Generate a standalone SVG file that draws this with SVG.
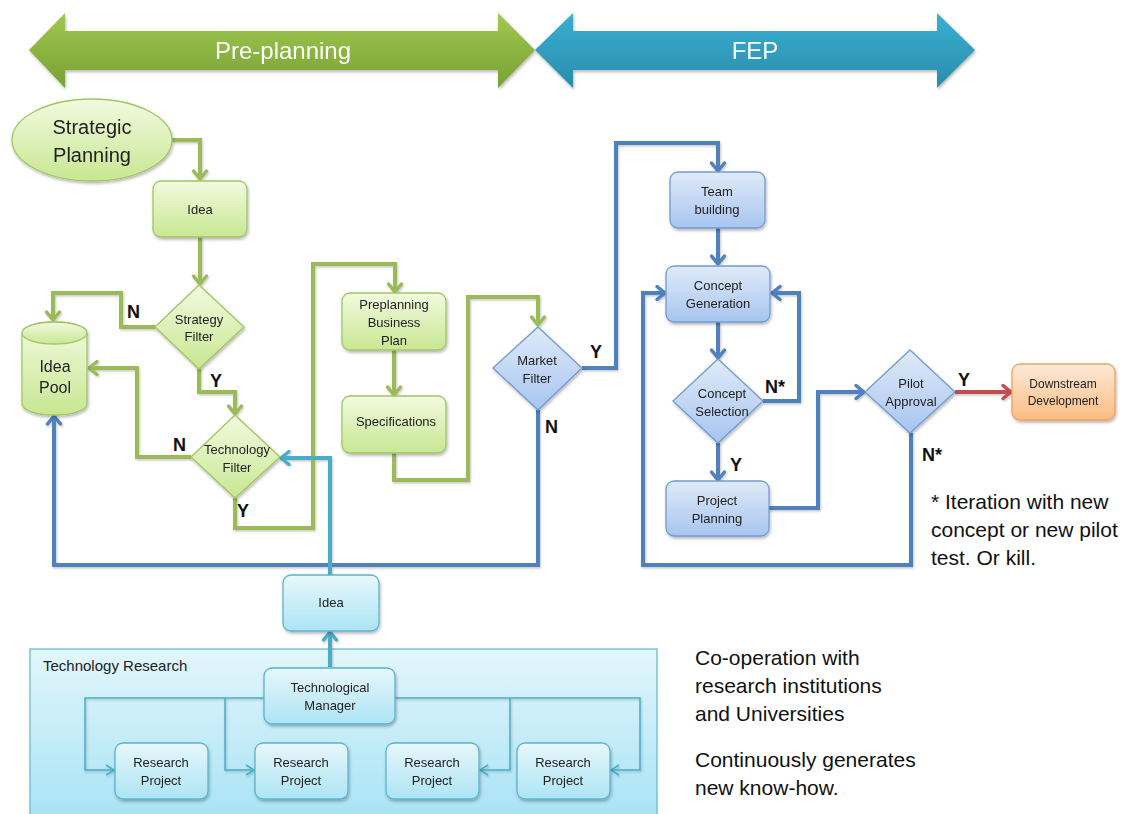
<svg xmlns="http://www.w3.org/2000/svg" width="1144" height="814" viewBox="0 0 1144 814">
  <style>
    .t { font-family: "Liberation Sans", Arial, sans-serif; fill: #222; text-anchor: middle; }
    .n13 { font-size: 13px; }
    .big { font-family: "Liberation Sans", Arial, sans-serif; font-size: 21px; fill: #111; }
    .lab { font-family: "Liberation Sans", Arial, sans-serif; font-size: 18px; font-weight: bold; fill: #111; }
    .hdr { font-family: "Liberation Sans", Arial, sans-serif; font-size: 24px; fill: #fff; text-anchor: middle; }
    .gNode { fill: url(#gradG); stroke: #A2C564; stroke-width: 1.3; }
    .bNode { fill: url(#gradB); stroke: #729BD2; stroke-width: 1.3; }
    .cNode { fill: url(#gradC); stroke: #5AB4CE; stroke-width: 1.3; }
    .oNode { fill: url(#gradO); stroke: #F0A35F; stroke-width: 1.3; }
    .cg { fill: none; stroke: #9BBB59; stroke-width: 4; stroke-linejoin: miter; }
    .cb { fill: none; stroke: #4F81BD; stroke-width: 4; stroke-linejoin: miter; }
    .cc { fill: none; stroke: #4BACC6; stroke-width: 4; stroke-linejoin: miter; }
    .cr { fill: none; stroke: #C0504D; stroke-width: 4; }
    .thin { fill: none; stroke: #4BACC6; stroke-width: 1.5; }
  </style>
  <defs>
    <linearGradient id="gradG" x1="0" y1="0" x2="0" y2="1">
      <stop offset="0" stop-color="#F2FADF"/>
      <stop offset="1" stop-color="#C8E792"/>
    </linearGradient>
    <linearGradient id="gradB" x1="0" y1="0" x2="0" y2="1">
      <stop offset="0" stop-color="#E0EAF9"/>
      <stop offset="1" stop-color="#A7C5F0"/>
    </linearGradient>
    <linearGradient id="gradC" x1="0" y1="0" x2="0" y2="1">
      <stop offset="0" stop-color="#E7F7FC"/>
      <stop offset="1" stop-color="#ADE4F4"/>
    </linearGradient>
    <linearGradient id="gradO" x1="0" y1="0" x2="0" y2="1">
      <stop offset="0" stop-color="#FDEAD8"/>
      <stop offset="1" stop-color="#FBBC82"/>
    </linearGradient>
    <linearGradient id="gradPanel" x1="0" y1="0" x2="0" y2="1">
      <stop offset="0" stop-color="#E3F6FC"/>
      <stop offset="1" stop-color="#A6E2F5"/>
    </linearGradient>
    <linearGradient id="gradHdrG" x1="0" y1="0" x2="0" y2="1">
      <stop offset="0" stop-color="#A3C851"/>
      <stop offset="1" stop-color="#76A133"/>
    </linearGradient>
    <linearGradient id="gradHdrB" x1="0" y1="0" x2="0" y2="1">
      <stop offset="0" stop-color="#38B0D2"/>
      <stop offset="1" stop-color="#2A8CAC"/>
    </linearGradient>
    <filter id="sh" x="-20%" y="-20%" width="140%" height="150%">
      <feDropShadow dx="1" dy="2" stdDeviation="1.5" flood-color="#000" flood-opacity="0.28"/>
    </filter>
    <filter id="shL" x="-5%" y="-5%" width="110%" height="115%">
      <feDropShadow dx="1" dy="1.5" stdDeviation="1" flood-color="#000" flood-opacity="0.22"/>
    </filter>
    <marker id="aG" viewBox="0 0 14 18" refX="11" refY="9" markerWidth="14" markerHeight="18" markerUnits="userSpaceOnUse" orient="auto">
      <path d="M3,2.5 L11,9 L3,15.5" fill="none" stroke="#9BBB59" stroke-width="3.5" stroke-linecap="round" stroke-linejoin="round"/>
    </marker>
    <marker id="aB" viewBox="0 0 14 18" refX="11" refY="9" markerWidth="14" markerHeight="18" markerUnits="userSpaceOnUse" orient="auto">
      <path d="M3,2.5 L11,9 L3,15.5" fill="none" stroke="#4F81BD" stroke-width="3.5" stroke-linecap="round" stroke-linejoin="round"/>
    </marker>
    <marker id="aC" viewBox="0 0 14 18" refX="11" refY="9" markerWidth="14" markerHeight="18" markerUnits="userSpaceOnUse" orient="auto">
      <path d="M3,2.5 L11,9 L3,15.5" fill="none" stroke="#4BACC6" stroke-width="3.5" stroke-linecap="round" stroke-linejoin="round"/>
    </marker>
    <marker id="aR" viewBox="0 0 14 18" refX="11" refY="9" markerWidth="14" markerHeight="18" markerUnits="userSpaceOnUse" orient="auto">
      <path d="M3,2.5 L11,9 L3,15.5" fill="none" stroke="#C0504D" stroke-width="3.5" stroke-linecap="round" stroke-linejoin="round"/>
    </marker>
    <marker id="aT" viewBox="0 0 10 12" refX="9" refY="6" markerWidth="10" markerHeight="12" markerUnits="userSpaceOnUse" orient="auto">
      <path d="M1,1 L9,6 L1,11" fill="none" stroke="#4BACC6" stroke-width="1.5"/>
    </marker>
  </defs>

  <rect x="0" y="0" width="1144" height="814" fill="#fff"/>

  <!-- phase banners -->
  <g id="phase-preplanning" filter="url(#sh)">
    <polygon points="29,50 65,13 65,31 498,31 498,13 535,50 498,88 498,70 65,70 65,88" fill="url(#gradHdrG)"/>
    <text class="hdr" x="283" y="59">Pre-planning</text>
  </g>
  <g id="phase-fep" filter="url(#sh)">
    <polygon points="535,50 573,13 573,31 937,31 937,13 975,50 937,88 937,70 573,70 573,88" fill="url(#gradHdrB)"/>
    <text class="hdr" x="755" y="59">FEP</text>
  </g>

  <!-- technology research panel -->
  <g id="technology-research">
    <rect x="30" y="649" width="627" height="175" fill="url(#gradPanel)" stroke="#68BCD4" stroke-width="1.3"/>
    <text class="t" x="43" y="671" style="font-size:15px;text-anchor:start">Technology Research</text>
  </g>

  <!-- connectors -->
  <g id="connectors" filter="url(#shL)">
    <!-- pre-planning (green) -->
    <path class="cg" d="M172,140 H200 V179" marker-end="url(#aG)"/>
    <path class="cg" d="M200,237 V284" marker-end="url(#aG)"/>
    <path class="cg" d="M155,327 H121 V293 H53 V320" marker-end="url(#aG)"/>
    <path class="cg" d="M199,369 V392 H235 V414" marker-end="url(#aG)"/>
    <path class="cg" d="M191,457 H137 V368 H89" marker-end="url(#aG)"/>
    <path class="cg" d="M235,498 V528 H313 V264 H395 V292" marker-end="url(#aG)"/>
    <path class="cg" d="M394,350 V395" marker-end="url(#aG)"/>
    <path class="cg" d="M394,453 V480 H468 V297 H538 V325" marker-end="url(#aG)"/>
    <!-- FEP (blue) -->
    <path class="cb" d="M538,410 V565 H54 V416" marker-end="url(#aB)"/>
    <path class="cb" d="M582,368 H616 V143 H718 V171" marker-end="url(#aB)"/>
    <path class="cb" d="M718,228 V264" marker-end="url(#aB)"/>
    <path class="cb" d="M718,322 V358" marker-end="url(#aB)"/>
    <path class="cb" d="M763,401 H799 V293 H772" marker-end="url(#aB)"/>
    <path class="cb" d="M718,443 V480" marker-end="url(#aB)"/>
    <path class="cb" d="M769,508 H818 V392 H864" marker-end="url(#aB)"/>
    <path class="cb" d="M911,433 V565 H643 V293 H665" marker-end="url(#aB)"/>
    <path class="cr" d="M955,392 H1011" marker-end="url(#aR)"/>
    <!-- technology research (teal) -->
    <path class="cc" d="M330,575 V458 H281" marker-end="url(#aC)"/>
    <path class="cc" d="M330,667 V632" marker-end="url(#aC)"/>
    <path class="thin" d="M264,698 H85 V770 H114" marker-end="url(#aT)"/>
    <path class="thin" d="M225,698 V770 H254" marker-end="url(#aT)"/>
    <path class="thin" d="M395,698 H640 V770 H611" marker-end="url(#aT)"/>
    <path class="thin" d="M510,698 V770 H480" marker-end="url(#aT)"/>
  </g>

  <!-- pre-planning nodes -->
  <g id="strategic-planning" filter="url(#sh)">
    <ellipse cx="92" cy="140" rx="80" ry="41" class="gNode"/>
    <text class="t" x="92" y="134" style="font-size:20px">Strategic</text>
    <text class="t" x="92" y="162" style="font-size:20px">Planning</text>
  </g>
  <g id="idea-1" filter="url(#sh)">
    <rect x="153" y="181" width="94" height="56" rx="8" class="gNode"/>
    <text class="t n13" x="200" y="214">Idea</text>
  </g>
  <g id="strategy-filter" filter="url(#sh)">
    <polygon points="199,285 244,327 199,369 155,327" class="gNode"/>
    <text class="t n13" x="199" y="324">Strategy</text>
    <text class="t n13" x="199" y="341">Filter</text>
  </g>
  <g id="idea-pool" filter="url(#sh)">
    <path d="M22,333 V404 A32.5,11 0 0 0 87,404 V333 A32.5,11 0 0 0 22,333 Z" class="gNode"/>
    <ellipse cx="54.5" cy="333" rx="32.5" ry="11" class="gNode"/>
    <text class="t" x="55" y="372" style="font-size:16px">Idea</text>
    <text class="t" x="55" y="393" style="font-size:16px">Pool</text>
  </g>
  <g id="technology-filter" filter="url(#sh)">
    <polygon points="235,415 280,457 235,498 191,457" class="gNode"/>
    <text class="t n13" x="237" y="454">Technology</text>
    <text class="t n13" x="237" y="472">Filter</text>
  </g>
  <g id="preplanning-business-plan" filter="url(#sh)">
    <rect x="342" y="293" width="104" height="57" rx="8" class="gNode"/>
    <text class="t n13" x="394" y="309">Preplanning</text>
    <text class="t n13" x="394" y="327">Business</text>
    <text class="t n13" x="394" y="345">Plan</text>
  </g>
  <g id="specifications" filter="url(#sh)">
    <rect x="342" y="396" width="104" height="57" rx="8" class="gNode"/>
    <text class="t n13" x="396" y="426">Specifications</text>
  </g>

  <!-- FEP nodes -->
  <g id="market-filter" filter="url(#sh)">
    <polygon points="538,327 582,368 538,410 493,368" class="bNode"/>
    <text class="t n13" x="537" y="365">Market</text>
    <text class="t n13" x="537" y="383">Filter</text>
  </g>
  <g id="team-building" filter="url(#sh)">
    <rect x="670" y="172" width="95" height="56" rx="8" class="bNode"/>
    <text class="t n13" x="717" y="196">Team</text>
    <text class="t n13" x="717" y="214">building</text>
  </g>
  <g id="concept-generation" filter="url(#sh)">
    <rect x="666" y="266" width="104" height="56" rx="8" class="bNode"/>
    <text class="t n13" x="718" y="290">Concept</text>
    <text class="t n13" x="718" y="308">Generation</text>
  </g>
  <g id="concept-selection" filter="url(#sh)">
    <polygon points="718,359 763,401 718,443 673,401" class="bNode"/>
    <text class="t n13" x="722" y="398">Concept</text>
    <text class="t n13" x="722" y="416">Selection</text>
  </g>
  <g id="project-planning" filter="url(#sh)">
    <rect x="666" y="481" width="103" height="55" rx="8" class="bNode"/>
    <text class="t n13" x="717" y="505">Project</text>
    <text class="t n13" x="717" y="523">Planning</text>
  </g>
  <g id="pilot-approval" filter="url(#sh)">
    <polygon points="910,350 955,392 910,433 865,392" class="bNode"/>
    <text class="t n13" x="911" y="388">Pilot</text>
    <text class="t n13" x="911" y="406">Approval</text>
  </g>
  <g id="downstream-development" filter="url(#sh)">
    <rect x="1012" y="364" width="103" height="56" rx="8" class="oNode"/>
    <text class="t" x="1063" y="388" style="font-size:12px">Downstream</text>
    <text class="t" x="1063" y="405" style="font-size:12px">Development</text>
  </g>

  <!-- technology research nodes -->
  <g id="idea-2" filter="url(#sh)">
    <rect x="283" y="575" width="96" height="56" rx="8" class="cNode"/>
    <text class="t n13" x="331" y="607">Idea</text>
  </g>
  <g id="technological-manager" filter="url(#sh)">
    <rect x="264" y="668" width="131" height="56" rx="8" class="cNode"/>
    <text class="t n13" x="330" y="692">Technological</text>
    <text class="t n13" x="330" y="710">Manager</text>
  </g>
  <g id="research-project-1" filter="url(#sh)">
    <rect x="115" y="743" width="93" height="56" rx="8" class="cNode"/>
    <text class="t n13" x="161" y="767">Research</text>
    <text class="t n13" x="161" y="785">Project</text>
  </g>
  <g id="research-project-2" filter="url(#sh)">
    <rect x="255" y="743" width="93" height="56" rx="8" class="cNode"/>
    <text class="t n13" x="301" y="767">Research</text>
    <text class="t n13" x="301" y="785">Project</text>
  </g>
  <g id="research-project-3" filter="url(#sh)">
    <rect x="386" y="743" width="93" height="56" rx="8" class="cNode"/>
    <text class="t n13" x="432" y="767">Research</text>
    <text class="t n13" x="432" y="785">Project</text>
  </g>
  <g id="research-project-4" filter="url(#sh)">
    <rect x="517" y="743" width="93" height="56" rx="8" class="cNode"/>
    <text class="t n13" x="563" y="767">Research</text>
    <text class="t n13" x="563" y="785">Project</text>
  </g>

  <!-- decision labels -->
  <g id="decision-labels">
    <text class="lab" x="127" y="318">N</text>
    <text class="lab" x="210" y="387">Y</text>
    <text class="lab" x="173" y="451">N</text>
    <text class="lab" x="237" y="517">Y</text>
    <text class="lab" x="545" y="433">N</text>
    <text class="lab" x="590" y="358">Y</text>
    <text class="lab" x="765" y="393">N*</text>
    <text class="lab" x="730" y="471">Y</text>
    <text class="lab" x="958" y="386">Y</text>
    <text class="lab" x="922" y="461">N*</text>
  </g>

  <!-- notes -->
  <g id="notes">
    <text class="big" x="931" y="509">* Iteration with new</text>
    <text class="big" x="931" y="537">concept or new pilot</text>
    <text class="big" x="931" y="565">test. Or kill.</text>
    <text class="big" x="695" y="665">Co-operation with</text>
    <text class="big" x="695" y="693">research institutions</text>
    <text class="big" x="695" y="721">and Universities</text>
    <text class="big" x="695" y="767">Continuously generates</text>
    <text class="big" x="695" y="795">new know-how.</text>
  </g>
</svg>
